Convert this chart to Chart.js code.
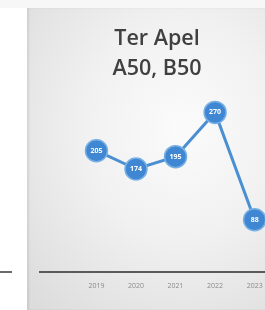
<!DOCTYPE html>
<html><head><meta charset="utf-8">
<script src="https://cdn.jsdelivr.net/npm/chart.js@4/dist/chart.umd.min.js"></script>
<style>
html,body{margin:0;padding:0;width:265px;height:310px;overflow:hidden;background:#fff;position:relative;}
#top{position:absolute;left:0;top:0;width:265px;height:8px;background:#f7f7f7;}
#leftline{position:absolute;left:0;top:271px;width:12px;height:2px;background:#6a6a6a;}
#panel{position:absolute;left:27px;top:8px;width:238px;height:302px;
 background:radial-gradient(ellipse 90% 80% at 65% 40%, #fbfbfb 0%, #f1f1f1 45%, #dcdcdc 100%);
 box-shadow:inset 2px 0 2px rgba(0,0,0,0.08);}
#wrap{position:absolute;left:27px;top:8px;width:252px;height:302px;}
</style></head><body>
<div id="top"></div><div id="leftline"></div>
<div id="panel"></div>
<div id="wrap"><canvas id="c" width="252" height="302"></canvas></div>
<script>
const titleLines = ["Ter Apel", "A50, B50"];
const years = [2019, 2020, 2021, 2022, 2023];
const values = [205, 174, 195, 270, 88];

const pointLabels = {
  id: 'pointLabels',
  afterDatasetsDraw(chart) {
    const ctx = chart.ctx;
    const meta = chart.getDatasetMeta(0);
    ctx.save();
    ctx.fillStyle = '#ffffff';
    ctx.font = 'bold 7px "Open Sans", sans-serif';
    ctx.textAlign = 'center';
    ctx.textBaseline = 'middle';
    meta.data.forEach((pt, i) => {
      ctx.fillText(String(values[i]), pt.x, pt.y);
    });
    ctx.restore();
  }
};
const titlePlugin = {
  id: 'titlePlugin',
  afterDraw(chart) {
    const ctx = chart.ctx;
    ctx.save();
    ctx.fillStyle = '#404040';
    ctx.font = '600 21.5px "Open Sans", sans-serif';
    ctx.textAlign = 'center';
    ctx.textBaseline = 'middle';
    titleLines.forEach((t, i) => ctx.fillText(t, 130, 31 + i * 30));
    ctx.restore();
  }
};

new Chart(document.getElementById('c'), {
  type: 'line',
  data: {
    datasets: [{
      data: years.map((y, i) => ({x: y, y: values[i]})),
      borderColor: '#4b8fd3',
      borderWidth: 3,
      pointRadius: 11,
      pointHoverRadius: 11,
      pointBackgroundColor: '#3f87d2',
      pointBorderColor: '#79b0e4',
      pointBorderWidth: 1.5,
      clip: false,
      tension: 0
    }]
  },
  options: {
    responsive: false,
    animation: false,
    events: [],
    layout: {padding: {left: 11, right: 0, top: 82, bottom: 18}},
    plugins: {legend: {display: false}, tooltip: {enabled: false}, title: {display: false}},
    scales: {
      x: {
        type: 'linear',
        min: 2017.56, max: 2023.3,
        afterBuildTicks(scale) { scale.ticks = years.map(v => ({value: v})); },
        ticks: {
          color: '#8a8a8a',
          font: {size: 7, family: '"Open Sans", sans-serif'},
          padding: 2,
          maxRotation: 0,
          autoSkip: false,
          callback: v => String(v)
        },
        grid: {display: false},
        border: {display: true, color: '#5a5a5a', width: 2}
      },
      y: {display: false, min: 0, max: 308}
    }
  },
  plugins: [pointLabels, titlePlugin]
});
</script>
</body></html>
